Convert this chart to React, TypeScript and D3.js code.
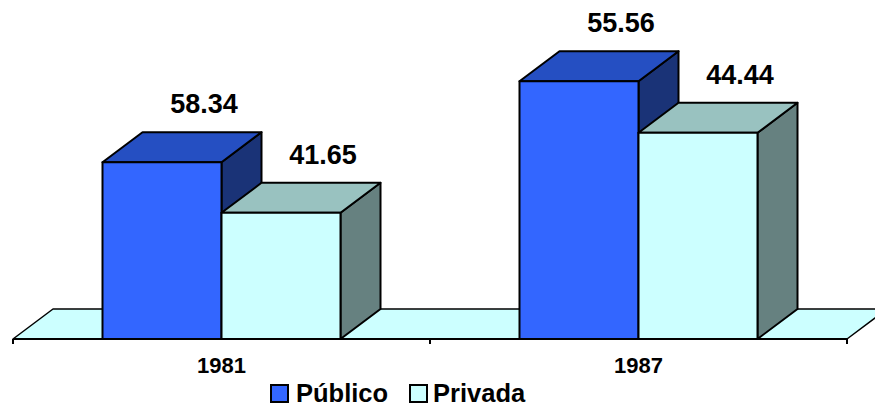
import React from 'react';
import * as d3 from 'd3';

// categories, series, and what is shown / plotted
const years = ['1981', '1987'];
const series = ['Público', 'Privada'];
// printed labels on top of each bar
const labelsPublico = [58.34, 55.56];
const labelsPrivada = [41.65, 44.44];
// bar heights (hidden value axis)
const heightsPublico = [38.1, 55.56];
const heightsPrivada = [27.2, 44.44];

const W = 875;
const H = 407;
const BASE_Y = 339;
const DX = 40;
const DY = 30;
const FONT = '"Liberation Sans", Arial, sans-serif';

const colors = {
  Público: { front: '#3366FF', top: '#254FC2', side: '#1A3377' },
  Privada: { front: '#CCFFFF', top: '#99C2C0', side: '#668180' },
};

const App = () => {
  const x = d3.scaleBand().domain(years).range([13, 847]);
  const inner = d3.scaleBand().domain(series).range([0, 238]);
  const y = d3.scaleLinear().domain([0, 60]).range([BASE_Y, BASE_Y - 278.4]);

  const bars = years.flatMap((yr, i) => [
    { yr, s: 'Público', h: heightsPublico[i], label: labelsPublico[i] },
    { yr, s: 'Privada', h: heightsPrivada[i], label: labelsPrivada[i] },
  ]);

  const x0 = x.range()[0];
  const x1 = x.range()[1];
  const floor = [
    [x0, BASE_Y], [x0 + DX, BASE_Y - DY], [x1 + DX, BASE_Y - DY], [x1, BASE_Y],
  ];
  const ticks = [x0, ...years.slice(1).map(yr => x(yr)!), x1];

  return (
    <svg width={W} height={H} style={{ position: 'absolute', left: 0, top: 0 }}>
      <polygon points={floor.map(p => p.join(',')).join(' ')}
        fill="#CCFFFF" stroke="#000" strokeWidth={1.5} strokeLinejoin="round" />

      {bars.map(b => {
        const gx = x(b.yr)! + (x.bandwidth() - 238) / 2;
        const l = gx + inner(b.s)!;
        const r = l + inner.bandwidth();
        const t = y(b.h);
        const c = colors[b.s as keyof typeof colors];
        const pts = (a: number[][]) => a.map(p => p.join(',')).join(' ');
        return (
          <g key={b.yr + b.s} stroke="#000" strokeWidth={2} strokeLinejoin="round">
            <polygon fill={c.side}
              points={pts([[r, t], [r + DX, t - DY], [r + DX, BASE_Y - DY], [r, BASE_Y]])} />
            <polygon fill={c.top}
              points={pts([[l, t], [l + DX, t - DY], [r + DX, t - DY], [r, t]])} />
            <rect x={l} y={t} width={r - l} height={BASE_Y - t} fill={c.front} />
            <text x={(l + r) / 2 + DX + 2} y={t - DY - 19} textAnchor="middle"
              fontFamily={FONT} fontWeight="bold" fontSize={27} stroke="none" fill="#000">
              {b.label.toFixed(2)}
            </text>
          </g>
        );
      })}

      <line x1={x0} x2={x1} y1={BASE_Y} y2={BASE_Y} stroke="#000" strokeWidth={2} />
      {ticks.map((t, i) => (
        <line key={i} x1={t} x2={t} y1={BASE_Y} y2={BASE_Y + 5} stroke="#000" strokeWidth={2} />
      ))}
      {years.map(yr => (
        <text key={yr} x={x(yr)! + x.bandwidth() / 2} y={373} textAnchor="middle"
          fontFamily={FONT} fontWeight="bold" fontSize={22}>{yr}</text>
      ))}

      {series.map((s, i) => {
        const lx = [271, 410][i];
        return (
          <g key={s}>
            <rect x={lx} y={385} width={17} height={17} fill={colors[s as keyof typeof colors].front}
              stroke="#000" strokeWidth={2} />
            <text x={lx + (i === 0 ? 25 : 23)} y={401.5} fontFamily={FONT} fontWeight="bold" fontSize={25.5}>{s}</text>
          </g>
        );
      })}
    </svg>
  );
};

export default App;
